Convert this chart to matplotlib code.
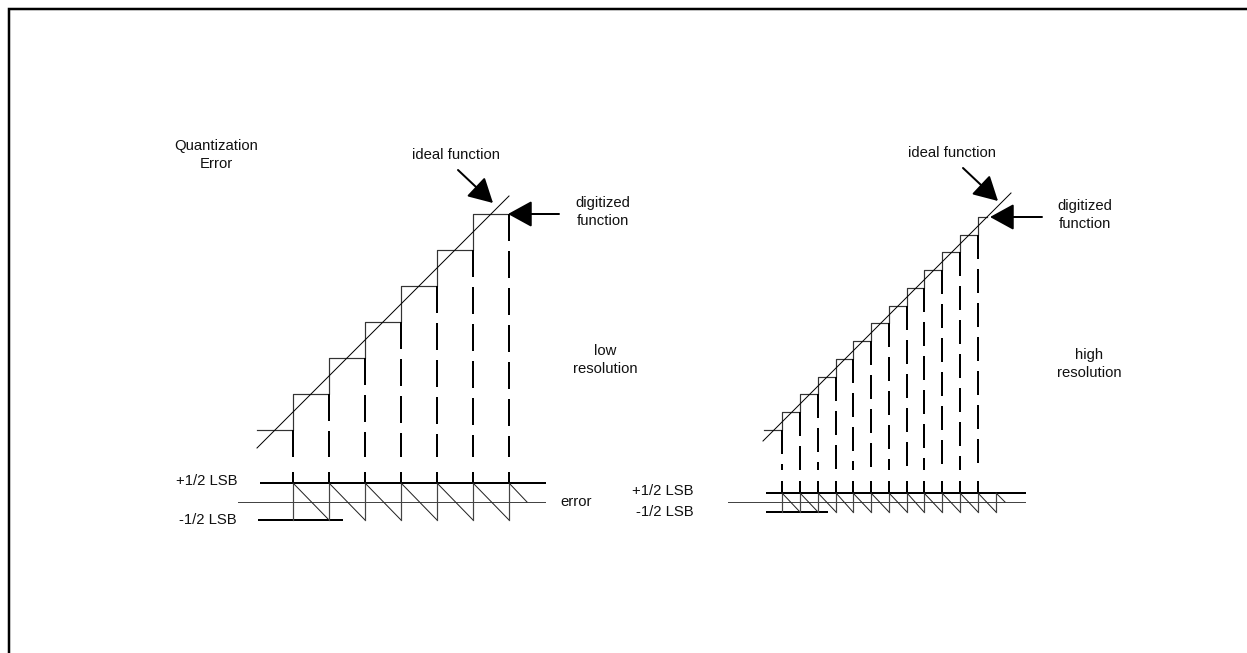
import matplotlib.pyplot as plt
from matplotlib.patches import FancyArrowPatch

plt.rcParams['font.family'] = ['Liberation Sans', 'DejaVu Sans']

# diagram drawn in pixel coordinates of the 1247x653 canvas (y grows downwards)
PX = 0.72  # one pixel in points at dpi 100

# low resolution panel
low_step_x = [257, 293, 329, 365, 401, 437, 473, 509]
low_step_y = [430, 394, 358, 322, 286, 250, 214, 214]
low_edges = [293, 329, 365, 401, 437, 473, 509]
low_levels = [430, 394, 358, 322, 286, 250, 214]
low_ideal_x = [257, 509]
low_ideal_y = [448, 196]
low_saw_x = [293, 329, 365, 401, 437, 473, 509]
low_saw_end = 527
low_lsb = {'plus': 483, 'zero': 502, 'minus': 520}

# high resolution panel
high_step_x = [764, 782, 800, 818, 836, 853, 871, 889, 907, 924, 942, 960, 978, 987]
high_step_y = [430, 412, 394, 377, 359, 341, 323, 306, 288, 270, 252, 235, 217, 217]
high_edges = [782, 800, 818, 836, 853, 871, 889, 907, 924, 942, 960, 978]
high_levels = [430, 412, 394, 377, 359, 341, 323, 306, 288, 270, 252, 235]
high_ideal_x = [763, 1011]
high_ideal_y = [441, 193]
high_saw_x = [782, 800, 818, 836, 853, 871, 889, 907, 924, 942, 960, 978, 996]
high_saw_end = 1005
high_lsb = {'plus': 493, 'zero': 502, 'minus': 512}

fig = plt.figure(figsize=(12.47, 6.53), dpi=100)
ax = fig.add_axes([0, 0, 1, 1])
ax.set_xlim(0, 1247)
ax.set_ylim(653, 0)
ax.axis('off')

# frame (top and left edges only visible)
ax.plot([9, 9, 1247], [653, 9, 9], color='black', lw=2.5 * PX, solid_joinstyle='miter')


def arrow(tail, tip):
    a = FancyArrowPatch(tail, tip, arrowstyle='-|>,head_length=0.62,head_width=0.34',
                        mutation_scale=24, color='black', lw=2 * PX, shrinkA=0, shrinkB=0)
    ax.add_patch(a)


def panel(step_x, step_y, edges, levels, ideal_x, ideal_y, saw_x, saw_end, lsb,
          dash_bottom, tick_top, plus_x, zero_x, minus_x, dash):
    # digitized staircase and ideal line
    ax.step(step_x, step_y, where='post', color='#333333', lw=1.2 * PX)
    ax.plot(ideal_x, ideal_y, color='black', lw=1 * PX)
    # dashed projections
    for e, lv in zip(edges, levels):
        ax.plot([e, e], [lv, dash_bottom], color='black', lw=2 * PX,
                linestyle=(0, dash), dash_capstyle='butt')
        ax.plot([e, e], [tick_top, lsb['plus']], color='black', lw=2 * PX)
    # LSB reference lines
    ax.plot(plus_x, [lsb['plus']] * 2, color='black', lw=2 * PX)
    ax.plot(zero_x, [lsb['zero']] * 2, color='#444444', lw=1 * PX)
    ax.plot(minus_x, [lsb['minus']] * 2, color='black', lw=2 * PX)
    # error sawtooth
    for i, s in enumerate(saw_x):
        ax.plot([s, s], [lsb['plus'], lsb['minus']], color='#444444', lw=1.2 * PX)
        if i + 1 < len(saw_x):
            ax.plot([s, saw_x[i + 1]], [lsb['plus'], lsb['minus']], color='#222222', lw=1 * PX)
        else:
            ax.plot([s, saw_end], [lsb['plus'], lsb['zero']], color='#222222', lw=1 * PX)


panel(low_step_x, low_step_y, low_edges, low_levels, low_ideal_x, low_ideal_y,
      low_saw_x, low_saw_end, low_lsb, 457, 473, [261, 545], [238, 545], [259, 342], (13.5, 5))
panel(high_step_x, high_step_y, high_edges, high_levels, high_ideal_x, high_ideal_y,
      high_saw_x, high_saw_end, high_lsb, 470, 482, [767, 1025], [728, 1025], [767, 827], (12, 5))

arrow((458, 170), (493, 203))
arrow((559, 214), (508, 214))
arrow((963, 168), (998, 201))
arrow((1042, 217), (990, 217))

fs = 10.7
ls = 1.4
tc = '#111111'
ax.text(216, 155, 'Quantization\nError', ha='center', va='center', fontsize=fs, color=tc, linespacing=ls)
ax.text(456, 155, 'ideal function', ha='center', va='center', fontsize=fs, color=tc)
ax.text(952, 153, 'ideal function', ha='center', va='center', fontsize=fs, color=tc)
ax.text(603, 212, 'digitized\nfunction', ha='center', va='center', fontsize=fs, color=tc, linespacing=ls)
ax.text(1085, 215, 'digitized\nfunction', ha='center', va='center', fontsize=fs, color=tc, linespacing=ls)
ax.text(605, 360, 'low\nresolution', ha='center', va='center', fontsize=fs, color=tc, linespacing=ls)
ax.text(1089, 364, 'high\nresolution', ha='center', va='center', fontsize=fs, color=tc, linespacing=ls)
ax.text(237, 481, '+1/2 LSB', ha='right', va='center', fontsize=fs, color=tc)
ax.text(237, 520, '-1/2 LSB', ha='right', va='center', fontsize=fs, color=tc)
ax.text(694, 491, '+1/2 LSB', ha='right', va='center', fontsize=fs, color=tc)
ax.text(694, 512, '-1/2 LSB', ha='right', va='center', fontsize=fs, color=tc)
ax.text(560, 502, 'error', ha='left', va='center', fontsize=fs, color=tc)

fig.savefig('out.png', dpi=100, facecolor='white')
plt.close(fig)
